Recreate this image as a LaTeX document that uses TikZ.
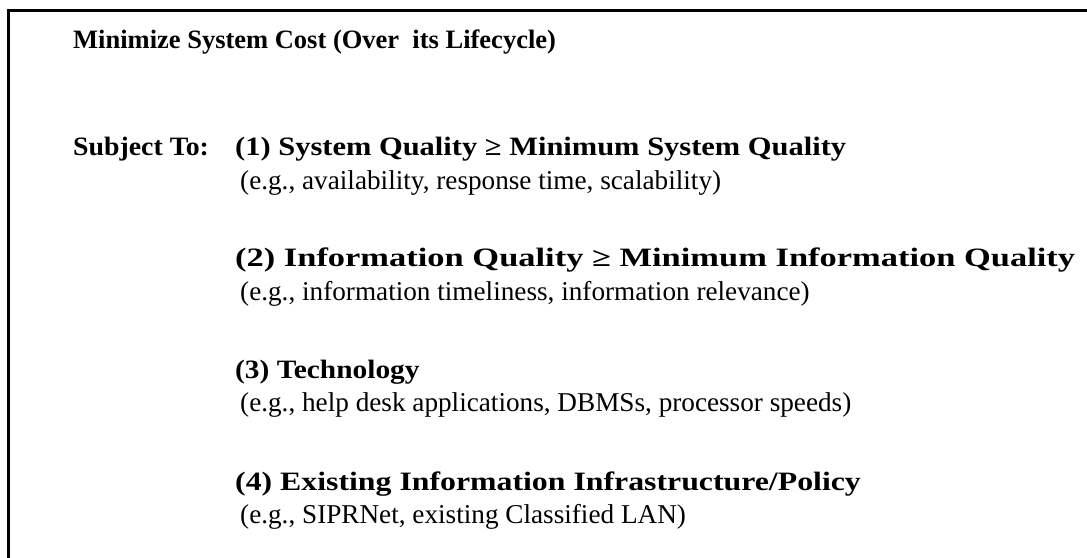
\documentclass[tikz,border=0pt]{standalone}
\usepackage{fontspec}
\setmainfont{Liberation Serif}
\begin{document}
\begin{tikzpicture}[x=1pt,y=-1pt,
  head/.style={anchor=base west,inner sep=0pt,font=\fontsize{26.5}{30}\selectfont\bfseries},
  note/.style={anchor=base west,inner sep=0pt,font=\fontsize{27.2}{30}\selectfont},
  frame/.style={line width=3pt,black}]
\useasboundingbox (0,0) rectangle (1087,557);
\draw[frame] (1095,10) -- (8,10) -- (8,565);
\node[head] (t1) at (73,48) {Minimize System Cost (Over\ \ its Lifecycle)};
\node[head] (subj) at (73,155) {\addfontfeatures{FakeStretch=1.05}Subject To:};
\node[head] (c1) at (235,155) {\addfontfeatures{FakeStretch=1.15}(1) System Quality ≥ Minimum System Quality};
\node[note] (e1) at (240,189) {(e.g., availability, response time, scalability)};
\node[head] (c2) at (235,266) {\addfontfeatures{FakeStretch=1.3}(2) Information Quality ≥ Minimum Information Quality};
\node[note] (e2) at (240,300) {(e.g., information timeliness, information relevance)};
\node[head] (c3) at (235,378) {\addfontfeatures{FakeStretch=1.11}(3) Technology};
\node[note] (e3) at (240,411) {(e.g., help desk applications, DBMSs, processor speeds)};
\node[head] (c4) at (235,490) {\addfontfeatures{FakeStretch=1.2}(4) Existing Information Infrastructure/Policy};
\node[note] (e4) at (240,523) {(e.g., SIPRNet, existing Classified LAN)};
\end{tikzpicture}
\end{document}
